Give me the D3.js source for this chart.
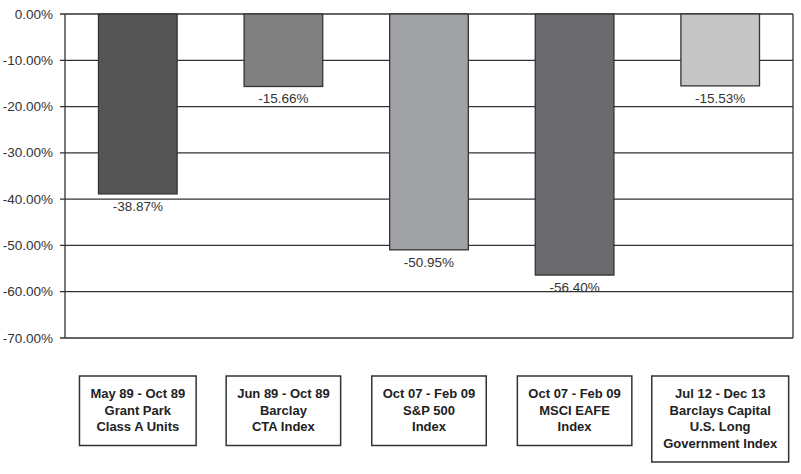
<!DOCTYPE html>
<html><head><meta charset="utf-8">
<script src="https://cdn.jsdelivr.net/npm/d3@7"></script>
<style>body{margin:0;background:#fff}svg{display:block}text{font-family:Arial,"Liberation Sans",sans-serif}</style>
</head><body><svg id="c" width="801" height="474"></svg>
<script>
const categories = [
  ["May 89 - Oct 89","Grant Park","Class A Units"],
  ["Jun 89 - Oct 89","Barclay","CTA Index"],
  ["Oct 07 - Feb 09","S&P 500","Index"],
  ["Oct 07 - Feb 09","MSCI EAFE","Index"],
  ["Jul 12 - Dec 13","Barclays Capital","U.S. Long","Government Index"]
];
const values = [-38.87, -15.66, -50.95, -56.40, -15.53];
const barColors = ["#555555","#808080","#a1a2a5","#6b6b6f","#c6c6c6"];
const yTicks = [0,-10,-20,-30,-40,-50,-60,-70];

const fmt = d => d3.format(".2f")(d).replace("\u2212","-") + "%";
const svg = d3.select("#c");
const L = 65, R = 793, T = 14, B = 338;
const x = d3.scaleBand().domain(d3.range(values.length)).range([L,R]).paddingInner(0.46).paddingOuter(0.23);
const y = d3.scaleLinear().domain([0,-70]).range([T,B]);

// gridlines
svg.append("g").selectAll("line").data(yTicks).join("line")
  .attr("x1",60).attr("x2",R).attr("y1",d=>y(d)).attr("y2",d=>y(d))
  .attr("stroke","#333").attr("stroke-width",1.3);
// frame
svg.append("line").attr("x1",L).attr("x2",L).attr("y1",T).attr("y2",B).attr("stroke","#333").attr("stroke-width",1.3);
svg.append("line").attr("x1",R).attr("x2",R).attr("y1",T).attr("y2",B).attr("stroke","#333").attr("stroke-width",1.3);

// y labels
svg.append("g").selectAll("text").data(yTicks).join("text")
  .attr("x",53).attr("y",d=>y(d)+4.5).attr("text-anchor","end")
  .attr("font-size",13.5).attr("fill","#333").text(fmt);

// bars
svg.append("g").selectAll("rect").data(values).join("rect")
  .attr("x",(d,i)=>x(i)).attr("width",x.bandwidth())
  .attr("y",y(0)).attr("height",d=>y(d)-y(0))
  .attr("fill",(d,i)=>barColors[i]).attr("stroke","#333").attr("stroke-width",1.3);

// value labels
svg.append("g").selectAll("text").data(values).join("text")
  .attr("x",(d,i)=>x(i)+x.bandwidth()/2).attr("y",d=>y(d)+17)
  .attr("text-anchor","middle").attr("font-size",13.5).attr("fill","#333")
  .text(fmt);

// category boxes
const boxTop = 376;
categories.forEach((lines,i)=>{
  const cx = x(i)+x.bandwidth()/2;
  const g = svg.append("g");
  const rect = g.append("rect");
  const t = g.append("text").attr("text-anchor","middle").attr("font-size",13).attr("font-weight","bold").attr("fill","#222");
  lines.forEach((s,j)=>t.append("tspan").attr("x",cx).attr("y",boxTop+22+j*16.5).text(s));
  const w = t.node().getBBox().width + 22;
  rect.attr("x",cx-w/2).attr("y",boxTop).attr("width",w).attr("height",lines.length*16.5+20)
    .attr("fill","#fff").attr("stroke","#333").attr("stroke-width",1.5);
});
</script></body></html>
